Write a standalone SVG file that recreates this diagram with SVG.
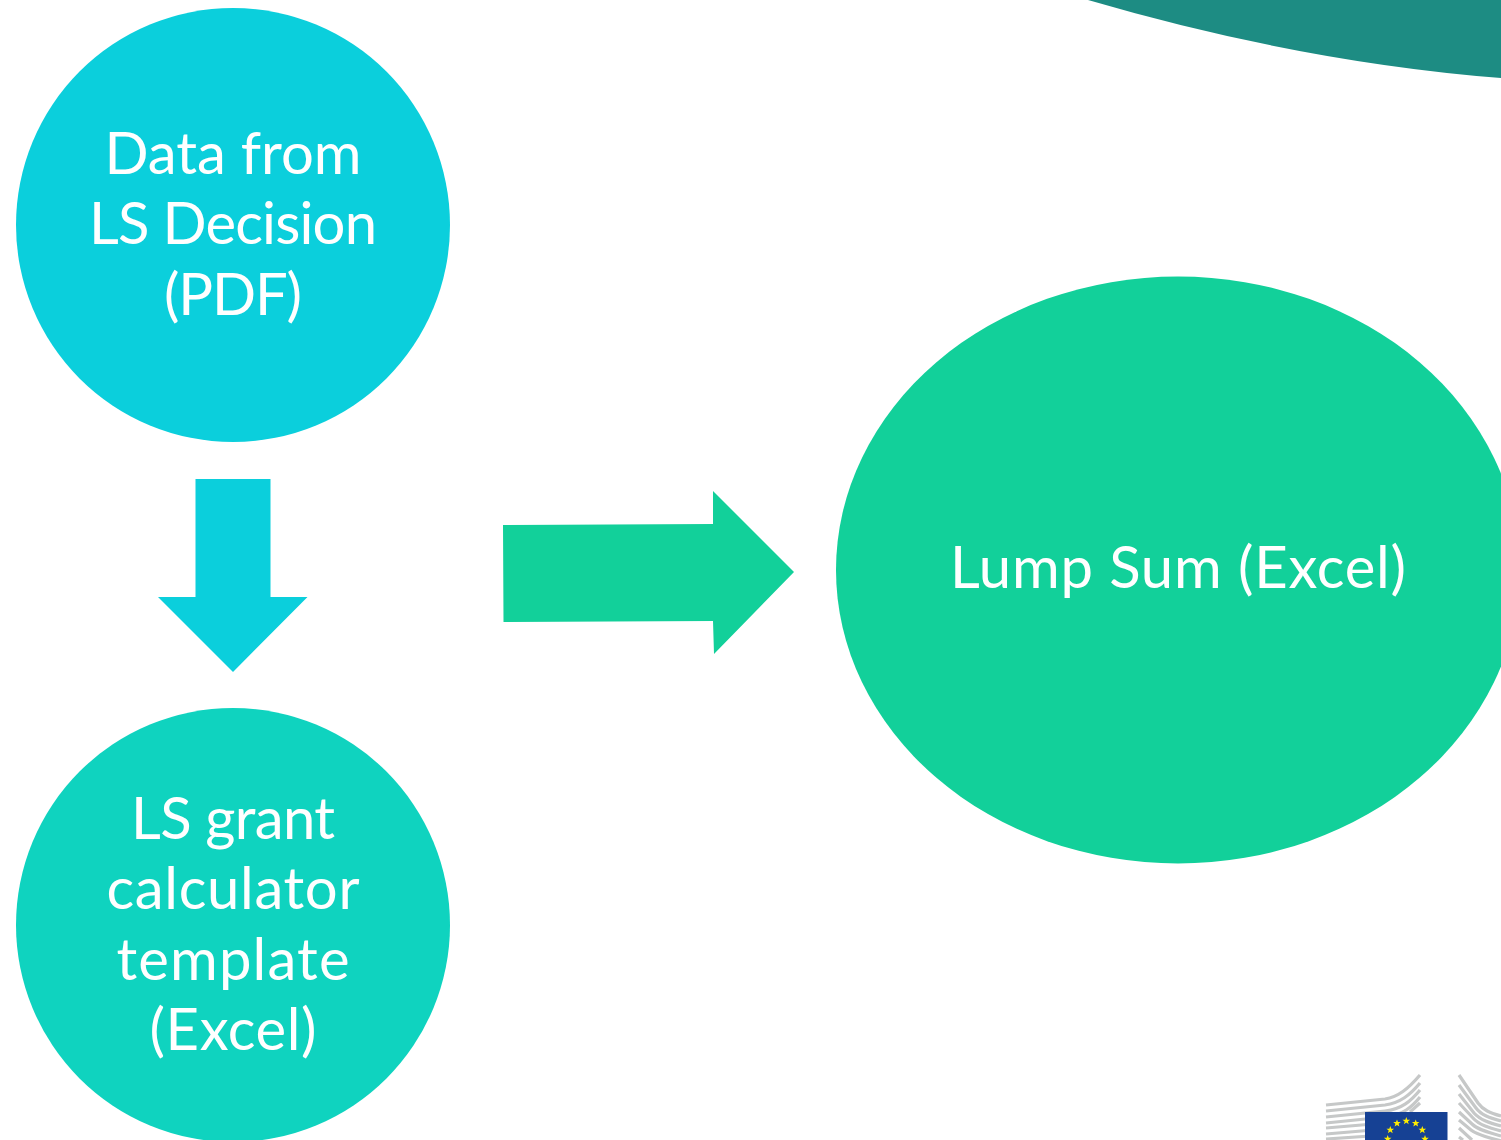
<svg xmlns="http://www.w3.org/2000/svg" width="1501" height="1140" viewBox="0 0 1501 1140">
<style>
text{font-family:"Lato","Open Sans","Liberation Sans",sans-serif;font-size:58px;fill:#fff;text-anchor:middle}
.l{fill:none;stroke:#c6c8c8;stroke-width:3.2}
</style>
<defs><polygon id="star" points="0,-3.9 1,-1.3 3.8,-1.2 1.6,0.5 2.4,3.2 0,1.6 -2.4,3.2 -1.6,0.5 -3.8,-1.2 -1,-1.3" fill="#ffed00"/></defs>
<rect width="1501" height="1140" fill="#fff"/>
<path id="corner" d="M1088 0Q1300 62 1501 78V0Z" fill="#1d8c83"/>
<g id="node-data"><circle cx="233" cy="225" r="217" fill="#0bcfdc"/>
<text x="233" y="174" textLength="257">Data from</text><text x="233" y="244" textLength="288">LS Decision</text><text x="233" y="315" textLength="138">(PDF)</text></g>
<g id="node-template"><circle cx="233" cy="925" r="217" fill="#0fd3bf"/>
<text x="233" y="839" textLength="204">LS grant</text><text x="233" y="909" textLength="253">calculator</text><text x="233" y="980" textLength="233">template</text><text x="233" y="1050" textLength="167">(Excel)</text></g>
<g id="node-lumpsum"><ellipse cx="1178" cy="570" rx="342" ry="293.5" fill="#12d09a"/>
<text x="1178" y="588" textLength="456">Lump Sum (Excel)</text></g>
<g id="connectors">
<polygon points="195.500,479 270.500,479 270.500,597 307.500,597 233,672 158,597 195.500,597" fill="#0bcfdc"/>
<polygon points="503,525 713,524 713,491 794,572 714,654 713,621 503.500,622" fill="#12d09a"/>
</g>
<g id="logo">
<path class="l" d="M1326 1105L1385 1099C1398 1097 1408 1089 1420 1075"/>
<path class="l" d="M1326 1111L1385 1105C1400 1103 1410 1095 1420 1083"/>
<path class="l" d="M1326 1117L1385 1111C1402 1109 1411 1101 1420 1090"/>
<path class="l" d="M1326 1123L1385 1117C1403 1115 1412 1107 1420 1097"/>
<path class="l" d="M1326 1128L1385 1123M1326 1134L1385 1129M1326 1139L1385 1135M1410 1112L1420 1103"/>
<path class="l" d="M1459 1075L1478 1103C1483 1110 1490 1113 1501 1116"/>
<path class="l" d="M1459 1085L1476 1108C1481 1115 1490 1118 1501 1121"/>
<path class="l" d="M1459 1094L1474 1113C1480 1120 1490 1123 1501 1126"/>
<path class="l" d="M1459 1103L1473 1118C1479 1125 1490 1128 1501 1131"/>
<path class="l" d="M1459 1112L1472 1124C1478 1130 1490 1133 1501 1136"/>
<path class="l" d="M1459 1120L1471 1130C1477 1135 1490 1138 1501 1141"/>
<path class="l" d="M1459 1128L1472 1140M1459 1137L1463 1140"/>
<rect x="1365" y="1112" width="82.500" height="28" fill="#164194"/>
<use href="#star" x="1406.300" y="1121"/><use href="#star" x="1397" y="1123.300"/><use href="#star" x="1415.700" y="1123.300"/><use href="#star" x="1390.300" y="1130"/><use href="#star" x="1422.300" y="1130"/><use href="#star" x="1387.700" y="1139"/><use href="#star" x="1425" y="1139"/>
</g>
</svg>
